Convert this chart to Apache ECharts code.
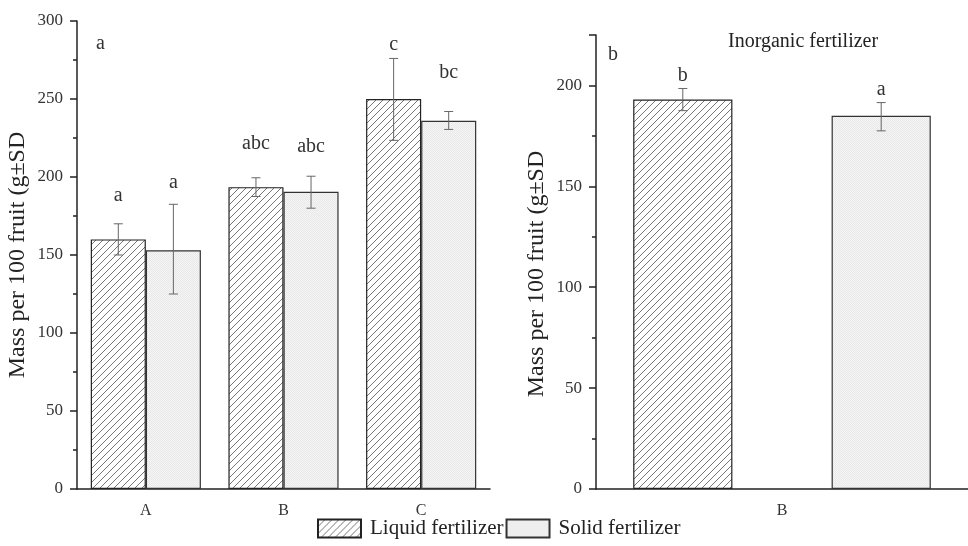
<!DOCTYPE html>
<html style="height: 100%">
<head>
<meta charset="UTF-8">
<title>Fruit mass</title>
<script src="https://cdn.jsdelivr.net/npm/echarts@6/dist/echarts.min.js"></script>
</head>
<body style="height: 100%; margin: 0; background: #fff">
<div id="main" style="width: 968px; height: 546px"></div>
<script type="text/javascript">
// left panel: three treatments
var categories = ['A', 'B', 'C'];
var liquidMean = [160, 193.5, 250];
var liquidLow = [150, 187.5, 223.5];
var liquidHigh = [170, 199.5, 276];
var liquidLetters = ['a', 'abc', 'c'];
var liquidLetterY = [188, 221, 285];
var solidMean = [153, 190.5, 236];
var solidLow = [125, 180, 230.5];
var solidHigh = [182.5, 200.5, 242];
var solidLetters = ['a', 'abc', 'bc'];
var solidLetterY = [196, 219.5, 267];

// right panel: inorganic fertilizer
var inorgCategories = ['B'];
var inorgLiquidMean = [193];
var inorgLiquidLow = [187.5];
var inorgLiquidHigh = [198.5];
var inorgLiquidLetters = ['b'];
var inorgLiquidLetterY = [205];
var inorgSolidMean = [185];
var inorgSolidLow = [177.5];
var inorgSolidHigh = [191.5];
var inorgSolidLetters = ['a'];
var inorgSolidLetterY = [198];

var FONT = '"Liberation Serif", "DejaVu Serif", serif';

//hatch pattern for liquid fertilizer
function makeHatch(){
	var c = document.createElement('canvas');
	c.width = 7; c.height = 7;
	var ctx = c.getContext('2d');
	ctx.fillStyle = '#fff';
	ctx.fillRect(0, 0, 7, 7);
	ctx.strokeStyle = '#666';
	ctx.lineWidth = 0.9;
	ctx.beginPath();
	ctx.moveTo(-1, 8); ctx.lineTo(8, -1);
	ctx.moveTo(-4.5, 4.5); ctx.lineTo(4.5, -4.5);
	ctx.moveTo(2.5, 11.5); ctx.lineTo(11.5, 2.5);
	ctx.stroke();
	return c;
}
//fine dotted grey for solid fertilizer
function makeDots(){
	var c = document.createElement('canvas');
	c.width = 2; c.height = 2;
	var ctx = c.getContext('2d');
	ctx.fillStyle = '#f5f5f5';
	ctx.fillRect(0, 0, 2, 2);
	ctx.fillStyle = '#e8e8e8';
	ctx.fillRect(0, 0, 1, 1);
	ctx.fillRect(1, 1, 1, 1);
	return c;
}
var hatch = {image: makeHatch(), repeat: 'repeat'};
var dots = {image: makeDots(), repeat: 'repeat'};

//error bar + letter drawn through the axes
function errSeries(xi, yi, low, high, lettersY, letters, offset){
	var data = [];
	for (var i = 0; i < low.length; i++) {
		data.push([i, low[i], high[i], lettersY[i]]);
	}
	return {
		type: 'custom',
		xAxisIndex: xi,
		yAxisIndex: yi,
		z: 10,
		silent: true,
		data: data,
		renderItem: function(params, api){
			var band = api.size([1, 0])[0];
			var x = api.coord([api.value(0), 0])[0] + offset * band;
			var yl = api.coord([api.value(0), api.value(1)])[1];
			var yh = api.coord([api.value(0), api.value(2)])[1];
			var yt = api.coord([api.value(0), api.value(3)])[1];
			var st = {stroke: '#666', lineWidth: 1};
			return {
				type: 'group',
				children: [
					{type: 'line', shape: {x1: x, y1: yl, x2: x, y2: yh}, style: st},
					{type: 'line', shape: {x1: x - 4.5, y1: yl, x2: x + 4.5, y2: yl}, style: st},
					{type: 'line', shape: {x1: x - 4.5, y1: yh, x2: x + 4.5, y2: yh}, style: st},
					{type: 'text', style: {text: letters[params.dataIndex], x: x, y: yt,
						align: 'center', verticalAlign: 'middle', fill: '#333',
						fontSize: 20, fontFamily: FONT}}
				]
			};
		}
	};
}

function yAxisCfg(grid, max, namePad){
	return {
		type: 'value',
		gridIndex: grid,
		min: 0,
		max: max,
		interval: 50,
		name: 'Mass per 100 fruit (g±SD',
		nameLocation: 'middle',
		nameGap: 47,
		nameTextStyle: {fontFamily: FONT, fontSize: 24, color: '#222', padding: namePad},
		axisLine: {show: true, lineStyle: {color: '#222', width: 1.5}},
		axisTick: {show: true, length: 7, lineStyle: {color: '#222', width: 1.5}},
		minorTick: {show: true, splitNumber: 2, length: 4, lineStyle: {color: '#222', width: 1.5}},
		splitLine: {show: false},
		axisLabel: {fontFamily: FONT, fontSize: 17, color: '#333', margin: 14, showMaxLabel: max % 50 === 0}
	};
}

var dom = document.getElementById('main');
var myChart = echarts.init(dom);
var option = {
	animation: false,
	backgroundColor: '#fff',
	grid: [
		{left: 77, top: 21, bottom: 57, width: 413},
		{left: 596, top: 35, bottom: 57, right: -10}
	],
	graphic: [
		{type: 'text', left: 96, top: 34, style: {text: 'a', fontSize: 20, fontFamily: FONT, fill: '#333'}},
		{type: 'text', left: 608, top: 45, style: {text: 'b', fontSize: 20, fontFamily: FONT, fill: '#333'}},
		{type: 'text', left: 728, top: 32, style: {text: 'Inorganic fertilizer', fontSize: 20, fontFamily: FONT, fill: '#222'}}
	],
	legend: {
		data: ['Liquid fertilizer', 'Solid fertilizer'],
		bottom: 2,
		left: 312,
		icon: 'rect',
		itemWidth: 43,
		itemHeight: 18,
		itemGap: 2,
		textStyle: {fontFamily: FONT, fontSize: 21, color: '#222', padding: [0, 0, 0, 4]}
	},
	xAxis: [
		{
			type: 'category', gridIndex: 0, data: categories,
			axisLine: {lineStyle: {color: '#222', width: 1.5}},
			axisTick: {alignWithLabel: true, length: 6, lineStyle: {color: '#222', width: 1.5}},
			axisLabel: {fontFamily: FONT, fontSize: 16, color: '#333', margin: 14}
		},
		{
			type: 'category', gridIndex: 0, data: categories, position: 'bottom',
			axisLine: {show: false},
			axisTick: {length: 3, lineStyle: {color: '#222', width: 1.5}},
			axisLabel: {show: false}
		},
		{
			type: 'category', gridIndex: 1, data: inorgCategories,
			axisLine: {lineStyle: {color: '#222', width: 1.5}},
			axisTick: {alignWithLabel: true, length: 6, lineStyle: {color: '#222', width: 1.5}},
			axisLabel: {fontFamily: FONT, fontSize: 16, color: '#333', margin: 14}
		}
	],
	yAxis: [yAxisCfg(0, 300, 0), yAxisCfg(1, 225, [0, 24, 0, 0])],
	series: [
		{
			name: 'Liquid fertilizer', type: 'bar', xAxisIndex: 0, yAxisIndex: 0,
			data: liquidMean, barGap: '0%', barCategoryGap: '20%',
			itemStyle: {color: hatch, borderColor: '#222', borderWidth: 1.2}
		},
		{
			name: 'Solid fertilizer', type: 'bar', xAxisIndex: 0, yAxisIndex: 0,
			data: solidMean, barGap: '0%', barCategoryGap: '20%',
			itemStyle: {color: dots, borderColor: '#333', borderWidth: 1.2}
		},
		{
			name: 'Liquid fertilizer', type: 'bar', xAxisIndex: 2, yAxisIndex: 1,
			data: inorgLiquidMean, barGap: '100%', barCategoryGap: '20%',
			itemStyle: {color: hatch, borderColor: '#222', borderWidth: 1.2}
		},
		{
			name: 'Solid fertilizer', type: 'bar', xAxisIndex: 2, yAxisIndex: 1,
			data: inorgSolidMean, barGap: '100%', barCategoryGap: '20%',
			itemStyle: {color: dots, borderColor: '#333', borderWidth: 1.2}
		},
		errSeries(0, 0, liquidLow, liquidHigh, liquidLetterY, liquidLetters, -0.2),
		errSeries(0, 0, solidLow, solidHigh, solidLetterY, solidLetters, 0.2),
		errSeries(2, 1, inorgLiquidLow, inorgLiquidHigh, inorgLiquidLetterY, inorgLiquidLetters, -0.8 / 3),
		errSeries(2, 1, inorgSolidLow, inorgSolidHigh, inorgSolidLetterY, inorgSolidLetters, 0.8 / 3)
	]
};
myChart.setOption(option, true);
</script>
</body>
</html>
